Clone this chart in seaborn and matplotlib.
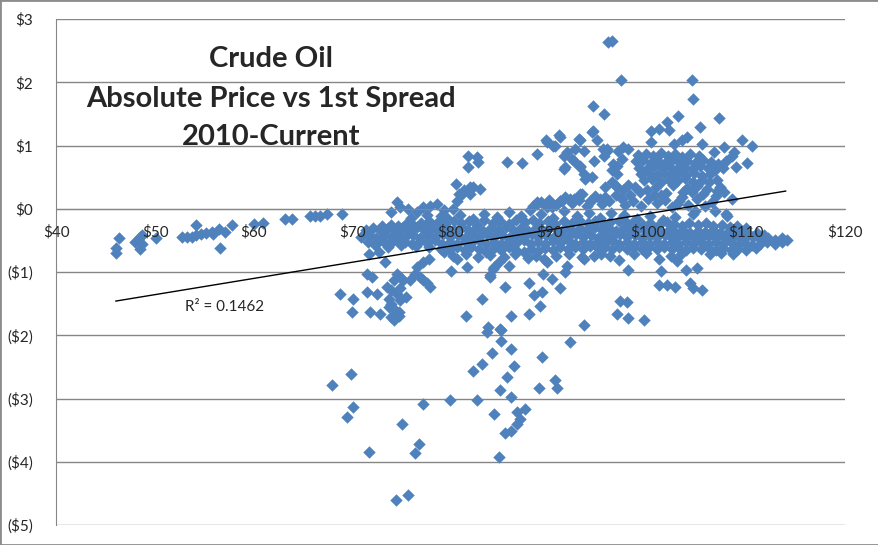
import matplotlib
matplotlib.use("Agg")
import matplotlib.pyplot as plt
import numpy as np
import pandas as pd
import seaborn as sns
from matplotlib.ticker import FuncFormatter

# ---- data: (absolute price, 1st spread) ----
tail = [(46.0,-0.62),(46.0,-0.70),(46.3,-0.47),(48.0,-0.53),(48.3,-0.49),(48.5,-0.44),
        (48.5,-0.64),(48.65,-0.55),(48.65,-0.42),(50.1,-0.47),(52.7,-0.44),(53.2,-0.44),
        (53.7,-0.44),(54.2,-0.25),(54.2,-0.42),(54.7,-0.40),(55.2,-0.38),(55.75,-0.37),
        (55.9,-0.40),(56.5,-0.32),(56.6,-0.62),(57.1,-0.37),(57.8,-0.26),(60.0,-0.24),
        (61.0,-0.23),(63.2,-0.16),(63.9,-0.16),(65.7,-0.12),(66.2,-0.12),(66.75,-0.11),
        (67.4,-0.08),(69.0,-0.09)]

upper_left = [(81.8,0.84),(82.66,0.82),(81.8,0.66),(82.8,0.74),(85.7,0.74),(87.2,0.72),
              (88.8,0.87),(80.5,0.39),(81.3,0.29),(82.3,0.34),(83.0,0.32),(80.6,0.13),
              (82.0,0.24),(81.0,0.21),(80.8,0.24),(82.0,0.34),(74.5,0.10),(73.9,-0.05),
              (75.7,0.0),(77.2,0.03),(77.9,0.05),(78.6,0.08),(76.6,-0.05),(77.6,-0.1),
              (74.9,0.02),(79.3,-0.02),(76.0,-0.15),(77.8,-0.2),(79.0,-0.12),(80.2,0.0)]

mid_upper = [(88.75,0.10),(90.3,0.03),(91.45,0.63),(92.5,0.76),(92.5,0.13),(91.3,0.13),
             (89.7,1.08),(91.05,1.13),(90.4,1.0),(93.1,1.09),(92.6,0.95),(93.5,0.92),
             (91.45,0.84),(92.3,0.79),(94.5,0.76),(95.4,0.95),(95.85,0.92),(94.4,1.63),
             (95.5,1.50),(94.4,1.23),(94.8,1.08),(91.6,0.66),(93.1,0.68),(93.5,0.55),
             (93.65,0.47),(96.5,0.71),(96.9,0.55),(96.7,0.37),(95.7,0.34),(88.75,0.08),
             (91.1,0.13),(92.1,0.16),(93.1,0.24),(94.1,0.13),(95.1,0.16),(90.95,1.16),
             (89.8,1.05),(90.6,1.0),(91.8,0.89),(93.0,1.11),(94.3,1.21),(93.15,0.66),
             (94.3,0.50),(95.85,0.95),(95.5,0.84),(97.0,0.92),(97.5,0.97),(98.0,0.95),
             (97.4,0.79),(96.9,0.68),(96.4,0.61),(96.4,0.42),(96.9,0.34),(97.5,0.29),
             (98.0,0.37),(98.7,0.34),(98.2,0.21),(99.2,0.26),(99.9,0.29),(100.6,0.21),
             (101.3,0.21),(97.4,0.16),(95.7,0.18),(94.2,0.13),(93.3,0.24),(92.5,0.16),
             (91.1,0.13),(89.8,0.03)]

high_right = [(96.0,2.63),(96.35,2.66),(97.3,2.04),(104.5,2.04),(104.55,1.74),(103.1,1.47),
              (107.2,1.44),(100.3,1.23),(101.1,1.26),(101.9,1.37),(102.1,1.24),(105.3,1.30),
              (109.6,1.08),(110.6,1.0),(104.0,1.13),(105.5,1.03),(107.7,0.97),(108.5,0.84),
              (108.9,0.66),(110.1,0.72),(106.7,0.89),(108.7,0.89),(107.9,0.76),
              (100.3,1.05),(102.6,1.02),(103.5,1.08)]

block_right = [(99.0,0.85),(99.8,0.87),(100.5,0.83),(101.3,0.88),(102.0,0.84),(102.8,0.86),
               (103.5,0.82),(104.3,0.87),(105.2,0.84),
               (98.8,0.75),(99.5,0.77),(100.3,0.73),(101.0,0.76),(101.8,0.74),(102.5,0.78),
               (103.3,0.72),(104.0,0.76),(104.8,0.73),(105.6,0.77),(106.4,0.74),(107.1,0.71),
               (99.1,0.65),(99.9,0.63),(100.6,0.67),(101.4,0.64),(102.2,0.66),(102.9,0.62),
               (103.7,0.66),(104.5,0.63),(105.3,0.67),(106.1,0.64),(106.8,0.61),(107.6,0.65),
               (99.3,0.55),(100.1,0.57),(100.9,0.53),(101.6,0.56),(102.4,0.54),(103.2,0.58),
               (103.9,0.53),(104.7,0.56),(105.5,0.52),(106.3,0.55),
               (99.6,0.45),(100.4,0.47),(101.3,0.43),(102.1,0.46),(103.0,0.44),(103.8,0.48),
               (104.6,0.43),(105.5,0.46),(106.2,0.42),(107.0,0.45),
               (100.8,0.35),(102.5,0.37),(104.0,0.33),(105.0,0.36),(106.0,0.32),(107.3,0.35),
               (101.8,0.25),(103.6,0.27),(105.6,0.24),(107.0,0.28),
               (106.5,0.10),(103.0,0.08),(103.5,0.18),(104.5,0.26)]

second_line = [(88.3,0.05),(89.2,0.10),(90.0,0.14),(90.7,0.06),(91.6,0.18),(92.3,0.09),
               (93.0,0.14),(93.8,0.05),(94.6,0.20),(95.3,0.08),(96.1,0.12),(96.8,0.22),
               (97.7,0.06),(98.5,0.13),(99.3,0.04),(100.0,0.16),(100.9,0.09),(101.7,0.14),
               (102.4,0.03),(103.2,0.12),(104.1,0.06),(105.0,0.15),(105.8,0.04),(106.9,0.20),
               (107.7,0.26),(108.5,0.16)]

band_top = [(79.6,-0.14),(80.9,-0.10),(82.3,-0.16),(83.4,-0.08),(84.7,-0.13),(85.9,-0.05),
            (87.1,-0.12),(88.0,-0.02),(89.2,-0.09),(90.4,-0.15),(91.5,-0.04),(92.8,-0.11),
            (94.0,-0.07),(95.1,-0.14),(96.3,-0.06),(97.6,-0.10),(98.9,-0.16),(100.2,-0.12),
            (101.5,-0.18),(102.8,-0.13),(104.6,-0.08),(106.85,-0.03),(108.0,-0.12),
            (104.8,-0.03),(107.9,-0.08)]

band_a = [(73.0,-0.27),(73.9,-0.25),(74.6,-0.28),(75.5,-0.24),(76.3,-0.27),(77.0,-0.22),
          (77.9,-0.26),(78.7,-0.21),(79.4,-0.24),(80.3,-0.19),(81.0,-0.23),(81.9,-0.20),
          (82.7,-0.25),(83.4,-0.18),(84.3,-0.22),(85.0,-0.19),(85.9,-0.24),(86.6,-0.17),
          (87.5,-0.21),(88.3,-0.18),(89.0,-0.23),(89.9,-0.20),(90.6,-0.24),(91.5,-0.19),
          (92.3,-0.22),(93.0,-0.18),(93.9,-0.23),(94.6,-0.20),(95.5,-0.24),(96.2,-0.21),
          (97.1,-0.19),(97.9,-0.23),(98.6,-0.20),(99.5,-0.25),(100.2,-0.22),(101.1,-0.26),
          (101.9,-0.21),(102.6,-0.24),(103.5,-0.27),(104.2,-0.23),(105.1,-0.26),(105.9,-0.22),
          (106.6,-0.28),(107.5,-0.25),(108.3,-0.29),(109.0,-0.27),(110.0,-0.31)]

band_b = [(71.4,-0.33),(72.1,-0.30),(72.9,-0.35),(73.6,-0.31),(74.3,-0.34),(75.1,-0.30),
          (75.8,-0.33),(76.6,-0.29),(77.3,-0.34),(78.1,-0.31),(78.8,-0.35),(79.6,-0.30),
          (80.3,-0.33),(81.1,-0.29),(81.8,-0.34),(82.6,-0.31),(83.3,-0.35),(84.1,-0.30),
          (84.8,-0.33),(85.6,-0.29),(86.3,-0.34),(87.1,-0.31),(87.8,-0.35),(88.6,-0.30),
          (89.3,-0.33),(90.1,-0.29),(90.8,-0.34),(91.6,-0.31),(92.3,-0.35),(93.1,-0.30),
          (93.8,-0.33),(94.6,-0.29),(95.3,-0.34),(96.1,-0.31),(96.8,-0.35),(97.6,-0.30),
          (98.3,-0.33),(99.1,-0.31),(99.8,-0.35),(100.6,-0.32),(101.3,-0.36),(102.1,-0.33),
          (102.8,-0.37),(103.6,-0.34),(104.3,-0.38),(105.1,-0.35),(105.8,-0.37),(106.6,-0.34),
          (107.3,-0.38),(108.1,-0.36),(108.8,-0.39),(109.6,-0.37),(110.3,-0.40),(111.1,-0.38),
          (111.8,-0.42)]

band_c = [(70.9,-0.45),(71.7,-0.42),(72.4,-0.46),(73.2,-0.41),(73.9,-0.44),(74.7,-0.40),
          (75.4,-0.45),(76.2,-0.42),(76.9,-0.46),(77.7,-0.41),(78.4,-0.44),(79.2,-0.40),
          (79.9,-0.45),(80.7,-0.42),(81.4,-0.46),(82.2,-0.41),(82.9,-0.44),(83.7,-0.40),
          (84.4,-0.45),(85.2,-0.42),(85.9,-0.46),(86.7,-0.41),(87.4,-0.44),(88.2,-0.40),
          (88.9,-0.45),(89.7,-0.42),(90.4,-0.46),(91.2,-0.41),(91.9,-0.44),(92.7,-0.40),
          (93.4,-0.45),(94.2,-0.42),(94.9,-0.46),(95.7,-0.41),(96.4,-0.44),(97.2,-0.40),
          (97.9,-0.45),(98.7,-0.42),(99.4,-0.46),(100.2,-0.43),(100.9,-0.45),(101.7,-0.42),
          (102.4,-0.46),(103.2,-0.43),(103.9,-0.47),(104.7,-0.44),(105.4,-0.46),(106.2,-0.43),
          (106.9,-0.47),(107.7,-0.44),(108.4,-0.48),(109.2,-0.45),(109.9,-0.47),(110.7,-0.44),
          (111.4,-0.48),(112.2,-0.46),(112.9,-0.49),(113.6,-0.47)]

band_d = [(71.6,-0.52),(72.4,-0.55),(73.1,-0.51),(73.9,-0.54),(74.6,-0.50),(75.4,-0.53),
          (76.1,-0.56),(76.9,-0.51),(77.6,-0.54),(78.4,-0.50),(79.1,-0.55),(79.9,-0.52),
          (80.6,-0.56),(81.4,-0.51),(82.1,-0.54),(82.9,-0.50),(83.6,-0.55),(84.4,-0.52),
          (85.1,-0.56),(85.9,-0.51),(86.6,-0.54),(87.4,-0.50),(88.1,-0.55),(88.9,-0.52),
          (89.6,-0.56),(90.4,-0.51),(91.1,-0.54),(91.9,-0.50),(92.6,-0.55),(93.4,-0.52),
          (94.1,-0.56),(94.9,-0.51),(95.6,-0.54),(96.4,-0.50),(97.1,-0.55),(97.9,-0.52),
          (98.6,-0.56),(99.4,-0.53),(100.1,-0.55),(100.9,-0.52),(101.6,-0.56),(102.4,-0.53),
          (103.1,-0.55),(103.9,-0.52),(104.6,-0.56),(105.4,-0.53),(106.1,-0.55),(106.9,-0.52),
          (107.6,-0.56),(108.4,-0.53),(109.1,-0.57),(109.9,-0.54),(110.6,-0.58),(111.4,-0.55),
          (112.1,-0.53),(112.9,-0.56),(113.6,-0.52),(114.1,-0.50)]

band_e = [(72.3,-0.58),(73.6,-0.60),(75.0,-0.57),(76.5,-0.59),(77.8,-0.61),(79.0,-0.63),
          (79.8,-0.66),(80.6,-0.61),(81.4,-0.65),(82.1,-0.60),(82.9,-0.64),(83.6,-0.68),
          (84.4,-0.62),(85.1,-0.66),(85.9,-0.61),(86.6,-0.65),(87.4,-0.69),(88.1,-0.63),
          (88.9,-0.67),(89.6,-0.62),(90.4,-0.66),(91.1,-0.61),(91.9,-0.64),(92.6,-0.60),
          (93.4,-0.63),(94.1,-0.59),(94.9,-0.62),(95.6,-0.60),(96.4,-0.64),(97.1,-0.61),
          (97.9,-0.63),(98.6,-0.60),(99.4,-0.64),(100.1,-0.61),(100.9,-0.63),(101.6,-0.60),
          (102.4,-0.64),(103.1,-0.61),(103.9,-0.65),(104.6,-0.62),(105.4,-0.64),(106.1,-0.61),
          (106.9,-0.65),(107.6,-0.62),(108.4,-0.66),(109.1,-0.63),(110.0,-0.66),(111.0,-0.62)]

band_f = [(80.2,-0.74),(81.5,-0.71),(82.8,-0.77),(84.0,-0.73),(85.4,-0.76),(86.5,-0.72),
          (87.8,-0.78),(88.7,-0.74),(89.5,-0.80),(90.7,-0.75),(92.0,-0.72),(95.2,-0.71),
          (96.2,-0.74),(98.6,-0.72),(99.8,-0.70),(103.4,-0.72),(107.4,-0.70),(108.6,-0.72)]

below_right = [(93.3,-0.77),(94.5,-0.75),(97.1,-0.81),(97.95,-0.97),(101.1,-0.79),(102.3,-0.75),
               (103.0,-0.83),(101.3,-0.99),(103.9,-0.97),(105.0,-0.93),(106.3,-0.72),
               (101.1,-1.20),(101.95,-1.21),(102.8,-1.23),(104.3,-1.18),(104.6,-1.25),
               (105.5,-1.29),(97.2,-1.46),(97.9,-1.48),(96.9,-1.67),(98.0,-1.72),(99.6,-1.76),
               (91.1,-1.25),(84.35,-0.92),(84.0,-1.05),(85.9,-0.90),(85.5,-1.24),(87.9,-1.18),
               (88.4,-1.37),(89.3,-1.32),(89.4,-1.03),(90.3,-1.11),(89.8,-0.84),(91.6,-1.0),
               (91.8,-0.9),(93.5,-0.79),(85.0,-1.90)]

plume = [(68.8,-1.35),(70.1,-1.42),(70.0,-1.63),(71.66,-0.71),(72.67,-0.69),(73.35,-0.84),
         (71.5,-1.03),(72.0,-1.08),(74.5,-1.03),(74.9,-1.08),(74.2,-1.13),(75.2,-1.13),
         (73.5,-1.24),(74.9,-1.26),(76.6,-0.92),(76.4,-1.03),(76.9,-1.08),(77.2,-1.13),
         (77.6,-1.18),(77.9,-1.24),(75.9,-1.13),(73.9,-1.29),(74.5,-1.34),(74.9,-1.45),
         (75.5,-1.40),(73.7,-1.42),(73.9,-1.50),(74.2,-1.58),(74.7,-1.63),(73.9,-1.71),
         (74.2,-1.76),(71.5,-1.32),(72.5,-1.34),(71.8,-1.63),(72.8,-1.66),(80.0,-0.98),
         (81.6,-0.92),(79.3,-0.69),(80.6,-0.79),(81.5,-1.69),(83.2,-1.42),(84.3,-0.95),
         (84.0,-1.08),(84.85,-0.84),(83.8,-1.87),(77.75,-0.79),(77.2,-0.84),(73.7,-1.55),
         (74.7,-1.70),(83.7,-1.95),(85.1,-1.92),(85.1,-2.09),(86.1,-1.69),(87.9,-1.66),
         (89.1,-1.53),(93.55,-1.84),(92.1,-2.11),(86.1,-2.21),(84.2,-2.28),(83.2,-2.46),
         (82.3,-2.57),(86.4,-2.48),(89.3,-2.35),(85.7,-2.66),(84.95,-2.86),(86.1,-2.98),
         (89.0,-2.83),(90.6,-2.70),(90.8,-2.83),(68.0,-2.79),(69.9,-2.62),(70.1,-3.14),
         (69.5,-3.30),(75.1,-3.41),(77.2,-3.08),(79.95,-3.03),(82.66,-3.03),(84.35,-3.25),
         (86.7,-3.21),(87.5,-3.17),(87.0,-3.32),(86.7,-3.40),(85.5,-3.55),(86.1,-3.52),
         (71.66,-3.85),(76.4,-3.86),(76.8,-3.72),(84.85,-3.93),(74.4,-4.60),(75.7,-4.52)]

# linear trendline as shown on the chart (ends)
trend_x = [46.0, 114.0]
trend_y = [-1.46, 0.28]
r_squared = 0.1462

x_ticks = [40, 50, 60, 70, 80, 90, 100, 110, 120]
y_ticks = [-5, -4, -3, -2, -1, 0, 1, 2, 3]

clusters = [tail, upper_left, mid_upper, high_right, block_right, second_line,
            band_top, band_a, band_b, band_c, band_d, band_e, band_f,
            below_right, plume]
pts = [p for c in clusters for p in c]
df = pd.DataFrame(pts, columns=["price", "spread"])

sns.set_style("white")
plt.rcParams["font.family"] = ["Lato", "DejaVu Sans"]

fig = plt.figure(figsize=(8.79, 5.45), dpi=100)
ax = fig.add_axes([56.5 / 879, 1 - 525 / 545, (845 - 56.5) / 879, (525 - 19) / 545])

grid_c = "#868686"
for yv in y_ticks:
    ax.axhline(yv, color=grid_c, lw=1, zorder=0.5)

sns.scatterplot(data=df, x="price", y="spread", marker="D", s=40, color="#4F81BD",
                linewidth=0, ax=ax, zorder=2)
sns.lineplot(x=trend_x, y=trend_y, color="black", lw=1, ax=ax, zorder=3)

ax.set_xlim(40, 120)
ax.set_ylim(-5, 3)
ax.set_xticks(x_ticks)
ax.set_yticks(y_ticks)
ax.xaxis.set_major_formatter(FuncFormatter(lambda v, p: f"${v:.0f}"))
ax.yaxis.set_major_formatter(FuncFormatter(
    lambda v, p: f"(${abs(v):.0f})" if v < 0 else f"${v:.0f}"))
ax.set_xlabel("")
ax.set_ylabel("")

for s in ["top", "right"]:
    ax.spines[s].set_visible(False)
ax.spines["bottom"].set_position(("data", 0))
ax.spines["bottom"].set_color(grid_c)
ax.spines["left"].set_color(grid_c)
ax.tick_params(axis="x", direction="in", length=4, color=grid_c, pad=12, labelsize=11)
ax.tick_params(axis="y", direction="out", length=5, color=grid_c, pad=12, labelsize=11)
ax.xaxis.set_zorder(4)
ax.yaxis.set_zorder(4)

ax.text(57.1, -1.56, f"R² = {r_squared}", ha="center", va="center", fontsize=11, zorder=5)

title_lines = [("Crude Oil", 66.7), ("Absolute Price vs 1st Spread", 107), ("2010-Current", 145)]
for txt, ypx in title_lines:
    fig.text(271 / 879, 1 - ypx / 545, txt, ha="center", va="baseline",
             fontsize=21, fontweight="bold")

fig.add_artist(plt.Rectangle((0, 0), 1, 1, transform=fig.transFigure, fill=False,
                             edgecolor="#8c8c8c", lw=2))

fig.savefig("out.png", dpi=100)
